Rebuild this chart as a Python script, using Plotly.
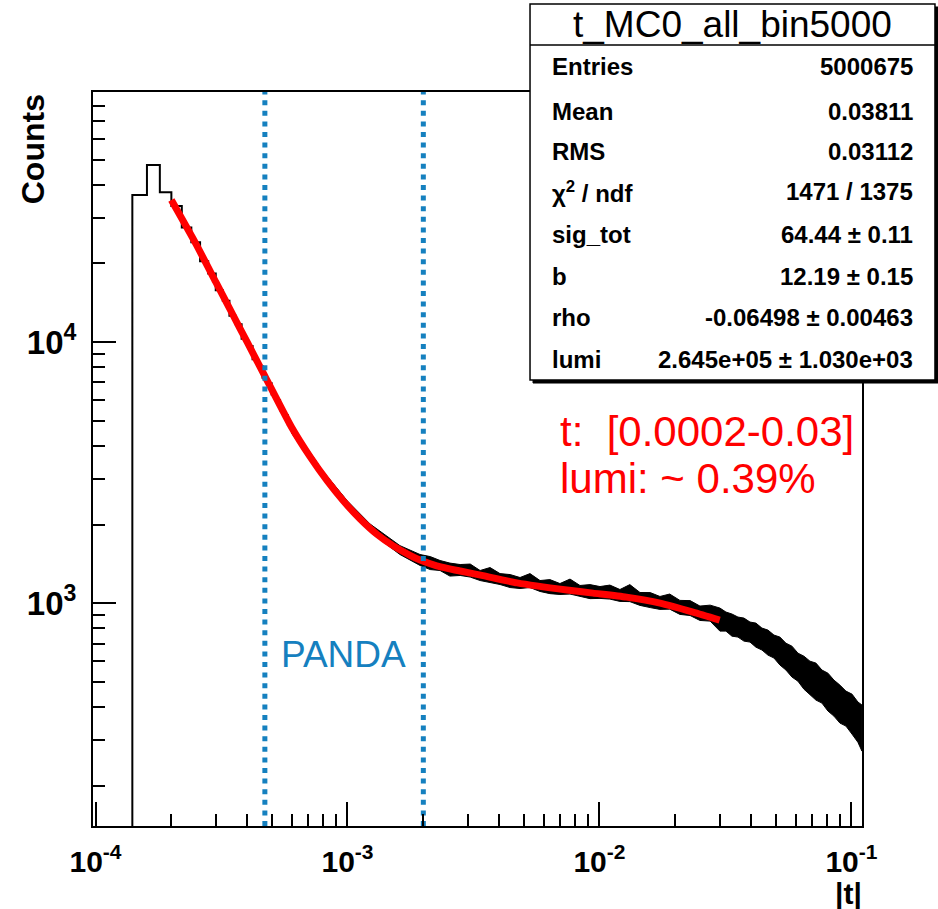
import plotly.graph_objects as go

# ---------------- data ----------------
# low-|t| histogram bins (bin width 2e-5): left edges and counts
hist_edges = [1.4e-4, 1.6e-4, 1.8e-4, 2.0e-4, 2.2e-4, 2.4e-4, 2.6e-4, 2.8e-4, 3.0e-4,
              3.2e-4, 3.4e-4, 3.6e-4, 3.8e-4, 4.0e-4, 4.2e-4, 4.4e-4, 4.6e-4, 4.8e-4,
              5.0e-4, 5.2e-4, 5.4e-4, 5.6e-4, 5.8e-4, 6.0e-4]
hist_counts = [36560, 47640, 37500, 33200, 27500, 24100, 20400, 18300, 15800,
               14400, 12600, 11700, 10300, 9650, 8600, 8100, 7300, 6950,
               6300, 6000, 5480, 5240, 4820, 4820]

# dense-bin region: upper / lower envelope of the fluctuating histogram
band_t = [6.0e-4, 8.0e-4, 1.0e-3, 1.23e-3, 1.615e-3, 1.94e-3, 2.13e-3, 2.33e-3, 2.55e-3,
          2.80e-3, 3.07e-3, 3.36e-3, 3.68e-3, 4.03e-3, 4.42e-3, 4.84e-3, 5.30e-3,
          5.81e-3, 6.36e-3, 6.97e-3, 7.64e-3, 8.37e-3, 9.17e-3, 1.005e-2, 1.10e-2,
          1.206e-2, 1.32e-2, 1.448e-2, 1.59e-2, 1.738e-2, 1.90e-2, 2.086e-2, 2.29e-2,
          2.505e-2, 2.75e-2, 0.03007, 0.03177, 0.03356, 0.03545, 0.03745,
          0.03957, 0.04178, 0.04414, 0.04663, 0.04927, 0.05203, 0.05497, 0.05806,
          0.06134, 0.06479, 0.06845, 0.07230, 0.07637, 0.08067, 0.08522, 0.09003,
          0.09510, 0.1005, 0.1061, 0.1101]
band_hi = [4808, 3200, 2459, 2008, 1660, 1535, 1507, 1456, 1423,
           1405, 1411, 1333, 1368, 1297, 1286, 1253, 1297,
           1220, 1230, 1188, 1236, 1168, 1177, 1157, 1172,
           1127, 1177, 1098, 1097, 1060, 1083, 1024, 1022,
           974, 982, 957, 924, 908, 884, 876,
           846, 838, 802, 788, 754, 741, 702, 684,
           643, 626, 599, 589, 554, 539, 507, 485,
           460, 448, 418, 407]
band_lo = [4481, 2990, 2292, 1871, 1535, 1394, 1344, 1333, 1269,
           1276, 1258, 1220, 1198, 1178, 1147, 1137, 1147,
           1108, 1087, 1079, 1083, 1060, 1040, 1042, 1036,
           1015, 1013, 980, 961, 946, 948, 905, 896,
           858, 853, 781, 781, 747, 741, 715,
           709, 678, 661, 632, 616, 579, 554, 521,
           502, 468, 448, 425, 414, 386, 369, 347,
           338, 315, 293, 271]

# fit curve (red), t in [0.0002, 0.03]
fit_t = [0.0002, 0.00025, 0.0003, 0.00035, 0.0004, 0.00047, 0.0006, 0.00071, 0.00083,
         0.00096, 0.00112, 0.00131, 0.00152, 0.00177, 0.00194, 0.00226, 0.0028,
         0.00345, 0.00471, 0.00743, 0.00942, 0.0128, 0.0174, 0.0235, 0.03]
fit_counts = [35000, 23820, 17000, 12780, 9985, 7410, 4718, 3640, 2944,
              2472, 2104, 1833, 1656, 1524, 1462, 1390, 1327,
              1274, 1195, 1122, 1092, 1054, 1000, 924, 861]

panda_bounds = [0.00047, 0.002]

x_ticks = [1e-4, 1e-3, 1e-2, 1e-1]
x_ticktext = ["<b>10<sup>-4</sup></b>", "<b>10<sup>-3</sup></b>", "<b>10<sup>-2</sup></b>", "<b>10<sup>-1</sup></b>"]
y_ticks = [1e3, 1e4]
y_ticktext = ["<b>10<sup>3</sup></b>", "<b>10<sup>4</sup></b>"]

stats_title = "t_MC0_all_bin5000"
stats_labels = ["Entries", "Mean", "RMS", "χ<sup>2</sup> / ndf", "sig_tot", "b", "rho", "lumi"]
stats_values = ["5000675", "0.03811", "0.03112", "1471 / 1375", "64.44 ± 0.11",
                "12.19 ± 0.15", "-0.06498 ± 0.00463", "2.645e+05 ± 1.030e+03"]

note_lines = ["t:\u00a0\u00a0[0.0002-0.03]", "lumi: ~ 0.39%"]

# ---------------- figure ----------------
FONT = "Liberation Sans, Arial, sans-serif"
BLUE = "#1580bf"

fig = go.Figure()

# noisy dense-bin band
fig.add_trace(go.Scatter(
    x=band_t + band_t[::-1], y=band_hi + band_lo[::-1],
    fill="toself", fillcolor="black", mode="lines",
    line=dict(color="black", width=1), hoverinfo="skip", showlegend=False))

# low-|t| histogram steps
fig.add_trace(go.Scatter(
    x=[hist_edges[0]] + hist_edges, y=[0.1] + hist_counts,
    mode="lines", line=dict(color="black", width=2, shape="hv"),
    showlegend=False))

# fit
fig.add_trace(go.Scatter(
    x=fit_t, y=fit_counts, mode="lines",
    line=dict(color="#ff0000", width=7, shape="spline", smoothing=0.6),
    showlegend=False))

# PANDA range dotted lines (on an overlay unit axis)
for b in panda_bounds:
    fig.add_trace(go.Scatter(
        x=[b, b], y=[0, 1], yaxis="y2", mode="lines",
        line=dict(color=BLUE, width=5, dash="5px,5.6px"), showlegend=False))

minor_x = [m * 10.0 ** e for e in range(-4, 0) for m in range(2, 10)]
minor_y = [m * 10.0 ** e for e in range(2, 5) for m in range(2, 10)]

fig.update_layout(
    width=938, height=909,
    margin=dict(l=93, r=76, t=92, b=83),
    paper_bgcolor="white", plot_bgcolor="white",
    font=dict(family=FONT, color="black"),
    xaxis=dict(
        type="log", range=[-4.01, -0.958],
        showline=True, linecolor="black", linewidth=2, mirror=True,
        showgrid=False, zeroline=False,
        tickmode="array", tickvals=x_ticks, ticktext=x_ticktext,
        ticks="inside", ticklen=24, tickwidth=2, tickcolor="black",
        tickfont=dict(size=30, family=FONT, color="black"),
        ticklabelstandoff=8,
        minor=dict(tickmode="array", tickvals=minor_x, ticks="inside",
                   ticklen=12, tickwidth=2, tickcolor="black", showgrid=False),
    ),
    yaxis=dict(
        type="log", range=[2.146, 4.958],
        showline=True, linecolor="black", linewidth=2, mirror=True,
        showgrid=False, zeroline=False,
        tickmode="array", tickvals=y_ticks, ticktext=y_ticktext,
        ticks="inside", ticklen=23, tickwidth=2, tickcolor="black",
        tickfont=dict(size=33, family=FONT, color="black"),
        ticklabelstandoff=8,
        minor=dict(tickmode="array", tickvals=minor_y, ticks="inside",
                   ticklen=12, tickwidth=2, tickcolor="black", showgrid=False),
    ),
    yaxis2=dict(overlaying="y", range=[0, 1], visible=False, fixedrange=True),
)

# stats box (ROOT style) with shadow
px_w, px_h = 769.0, 734.0
bx0, bx1, by0, by1 = 0.5683, 1.0949, 0.6076, 1.1199
shapes = [
    dict(type="rect", xref="paper", yref="paper",
         x0=bx0 + 3 / px_w, x1=bx1 + 3 / px_w, y0=by0 - 3 / px_h, y1=by1 - 3 / px_h,
         fillcolor="black", line=dict(color="black", width=1), layer="above"),
    dict(type="rect", xref="paper", yref="paper", x0=bx0, x1=bx1, y0=by0, y1=by1,
         fillcolor="white", line=dict(color="black", width=1.5), layer="above"),
    dict(type="line", xref="paper", yref="paper", x0=bx0, x1=bx1, y0=1.0640, y1=1.0640,
         line=dict(color="black", width=1.5), layer="above"),
]
fig.update_layout(shapes=shapes)

ann = []
ann.append(dict(text=stats_title, xref="paper", yref="paper", x=0.831, y=1.0926,
                xanchor="center", yanchor="middle", showarrow=False,
                font=dict(family=FONT, size=37, color="black")))
row_y = [1.0341, 0.9728, 0.9183, 0.8638, 0.8052, 0.7493, 0.6921, 0.6349]
for lab, val, yy in zip(stats_labels, stats_values, row_y):
    ann.append(dict(text="<b>" + lab + "</b>", xref="paper", yref="paper", x=0.5943, y=yy,
                    xanchor="left", yanchor="middle", showarrow=False,
                    font=dict(family=FONT, size=24, color="black")))
    ann.append(dict(text="<b>" + val + "</b>", xref="paper", yref="paper", x=1.0689, y=yy,
                    xanchor="right", yanchor="middle", showarrow=False,
                    font=dict(family=FONT, size=24, color="black")))

# red note
for line, yy in zip(note_lines, [0.5368, 0.4728]):
    ann.append(dict(text=line, xref="paper", yref="paper", x=0.6047, y=yy,
                    xanchor="left", yanchor="middle", showarrow=False,
                    font=dict(family=FONT, size=42, color="#ff0000")))

# PANDA label
ann.append(dict(text="PANDA", xref="paper", yref="paper", x=0.3257, y=0.233,
                xanchor="center", yanchor="middle", showarrow=False,
                font=dict(family=FONT, size=37, color=BLUE)))

# axis titles
ann.append(dict(text="<b>Counts</b>", xref="paper", yref="paper", x=-0.078, y=0.922,
                xanchor="center", yanchor="middle", textangle=-90, showarrow=False,
                font=dict(family=FONT, size=32, color="black")))
ann.append(dict(text="<b>|t|</b>", xref="paper", yref="paper", x=0.982, y=-0.0913,
                xanchor="center", yanchor="middle", showarrow=False,
                font=dict(family=FONT, size=30, color="black")))
fig.update_layout(annotations=ann)

fig.write_html("out.html", config={"displayModeBar": False},
               post_script="document.body.style.margin='0px';")
